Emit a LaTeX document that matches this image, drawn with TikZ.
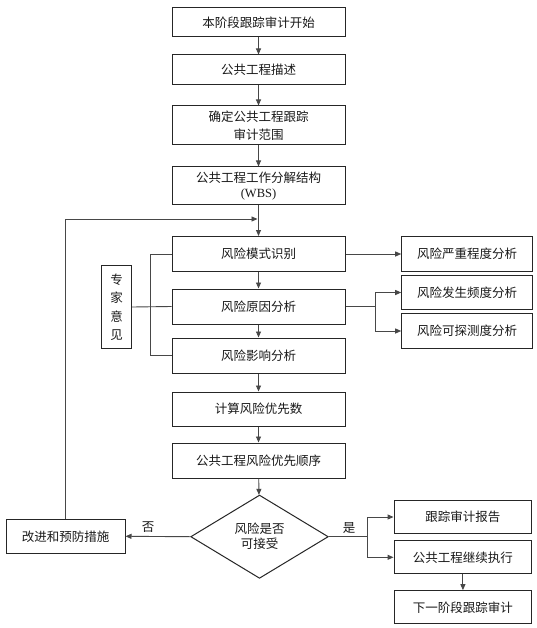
\documentclass[tikz,border=0pt]{standalone}
\usepackage{fontspec}
\setmainfont{Noto Sans CJK SC}
\newfontfamily\latinfont{Liberation Serif}
\usetikzlibrary{arrows.meta,shapes.geometric}
\begin{document}
\begin{tikzpicture}[x=1pt,y=-1pt,
  txt/.style={font=\fontsize{12.5}{16}\selectfont,text=black!90},
  box/.style={txt,draw=black!85,line width=1pt,inner sep=0pt,align=center},
  mainbox/.style={box,minimum width=173pt},
  rbox/.style={box,minimum width=130.6pt},
  obox/.style={box,minimum width=137.7pt},
  ln/.style={draw=black!72,line width=0.9pt},
  arr/.style={ln,-{Triangle[length=6pt,width=5pt]}},
  lbl/.style={txt,inner sep=0pt}
]
\fill[white] (0,0) rectangle (537,628);
\useasboundingbox (0,0) rectangle (537,628);

% main column
\node[mainbox,minimum height=29pt] (b1) at (258.5,22.5) {本阶段跟踪审计开始};
\node[mainbox,minimum height=30pt] (b2) at (258.5,70) {公共工程描述};
\node[mainbox,minimum height=39pt,font=\fontsize{12.5}{18}\selectfont] (b3) at (258.5,125.5) {确定公共工程跟踪\\审计范围};
\node[mainbox,minimum height=38pt,font=\fontsize{12.5}{15}\selectfont] (b4) at (258.5,186) {公共工程工作分解结构\\{\latinfont (WBS)}};
\node[mainbox,minimum height=35pt] (b5) at (258.5,254) {风险模式识别};
\node[mainbox,minimum height=35pt] (b6) at (258.5,306.5) {风险原因分析};
\node[mainbox,minimum height=35pt] (b7) at (258.5,355.5) {风险影响分析};
\node[mainbox,minimum height=34pt] (b8) at (258.5,409) {计算风险优先数};
\node[mainbox,minimum height=35pt] (b9) at (258.5,460.5) {公共工程风险优先顺序};
\node[diamond,draw=black!85,line width=1pt,inner sep=0pt,minimum width=137.6pt,minimum height=83.3pt,txt,align=center,font=\fontsize{12.5}{15}\selectfont] (dec) at (259.5,536.7) {风险是否\\可接受};

% left
\node[box,minimum width=119pt,minimum height=34pt] (imp) at (65.5,536.3) {改进和预防措施};
\node[box,minimum width=30pt,minimum height=82.6pt,font=\fontsize{12.5}{18.5}\selectfont] (exp) at (116.7,307) {专\\家\\意\\见};

% right upper
\node[rbox,minimum height=35pt] (r1) at (467,254) {风险严重程度分析};
\node[rbox,minimum height=33.6pt] (r2) at (467,292.5) {风险发生频度分析};
\node[rbox,minimum height=34.3pt] (r3) at (467,331) {风险可探测度分析};

% right lower
\node[obox,minimum height=32.6pt] (o1) at (462.9,517) {跟踪审计报告};
\node[obox,minimum height=33.3pt] (o2) at (462.9,557.3) {公共工程继续执行};
\node[obox,minimum height=33.3pt] (o3) at (462.9,607.3) {下一阶段跟踪审计};

% labels
\node[lbl] (no) at (148,527) {否};
\node[lbl] (yes) at (349,528) {是};

% main arrows
\draw[arr] (b1) -- (b2);
\draw[arr] (b2) -- (b3);
\draw[arr] (b3) -- (b4);
\draw[arr] (b4) -- (b5);
\draw[arr] (b5) -- (b6);
\draw[arr] (b6) -- (b7);
\draw[arr] (b7) -- (b8);
\draw[arr] (b8) -- (b9);
\draw[arr] (b9) -- (dec);

% feedback loop
\coordinate (fbt) at (257.5,219);
\draw[arr] (imp.north) |- (fbt);
\draw[arr] (dec.west) -- (imp.east);

% expert bracket
\coordinate (brB) at (150,355.5);
\draw[ln] (b5.west) -| (brB) -- (b7.west);
\draw[ln] (exp.east) -- (b6.west);

% right upper connectors
\draw[arr] (b5.east) -- (r1.west);
\coordinate (br2) at (375,306.5);
\draw[ln] (b6.east) -- (br2);
\draw[arr] (br2) |- (r2.west);
\draw[arr] (br2) |- (r3.west);

% right lower connectors
\coordinate (br3) at (367.7,536.7);
\draw[ln] (dec.east) -- (br3);
\draw[arr] (br3) |- (o1.west);
\draw[arr] (br3) |- (o2.west);
\draw[arr] (o2) -- (o3);
\end{tikzpicture}
\end{document}
